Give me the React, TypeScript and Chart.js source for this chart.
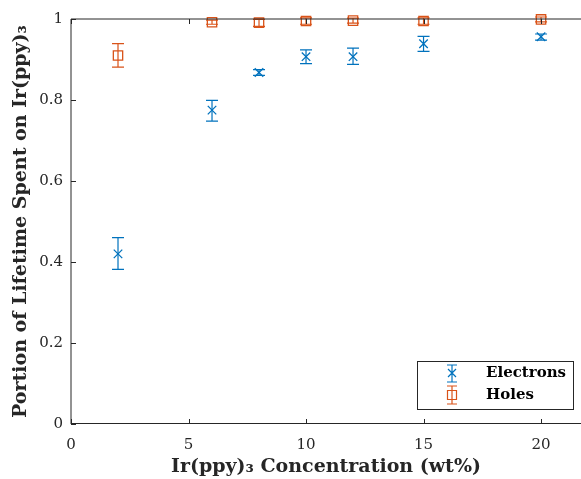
import React, { useEffect, useRef } from "react";
import { Chart, registerables } from "chart.js";

Chart.register(...registerables);

// ---- data ----
const concentrations = [2, 6, 8, 10, 12, 15, 20];
const electronMean = [0.42, 0.775, 0.868, 0.907, 0.907, 0.939, 0.956];
const electronLow = [0.382, 0.748, 0.861, 0.89, 0.888, 0.92, 0.948];
const electronHigh = [0.46, 0.799, 0.875, 0.924, 0.928, 0.957, 0.963];
const holeMean = [0.91, 0.992, 0.991, 0.995, 0.996, 0.995, 0.999];
const holeLow = [0.881, 0.987, 0.982, 0.987, 0.99, 0.987, 0.993];
const holeHigh = [0.939, 0.997, 0.999, 1.003, 1.002, 1.003, 1.005];
const xTicks = [0, 5, 10, 15, 20];
const yTicks = [0, 0.2, 0.4, 0.6, 0.8, 1];
const seriesNames = ["Electrons", "Holes"];

const BLUE = "#0072BD";
const ORANGE = "#D95319";
const AXIS = "#262626";
const FONT = "'DejaVu Serif', serif";

const errorBarPlugin = {
  id: "errorBars",
  afterDatasetsDraw(chart: any) {
    const { ctx, scales } = chart;
    const x = scales.x;
    const y = scales.y;
    const series = [
      { low: electronLow, high: electronHigh, color: BLUE },
      { low: holeLow, high: holeHigh, color: ORANGE },
    ];
    ctx.save();
    ctx.lineWidth = 1.2;
    series.forEach((s) => {
      ctx.strokeStyle = s.color;
      concentrations.forEach((c, i) => {
        const px = x.getPixelForValue(c);
        const yl = y.getPixelForValue(s.low[i]);
        const yh = y.getPixelForValue(s.high[i]);
        ctx.beginPath();
        ctx.moveTo(px, yl);
        ctx.lineTo(px, yh);
        ctx.moveTo(px - 6, yl);
        ctx.lineTo(px + 6, yl);
        ctx.moveTo(px - 6, yh);
        ctx.lineTo(px + 6, yh);
        ctx.stroke();
      });
    });
    ctx.restore();
  },
};

const axesPlugin = {
  id: "matlabAxes",
  afterDraw(chart: any) {
    const { ctx, chartArea, scales } = chart;
    const { left, top, bottom, right } = chartArea;
    ctx.save();
    ctx.strokeStyle = AXIS;
    ctx.lineWidth = 1;
    ctx.beginPath();
    ctx.moveTo(left, bottom - 0.5);
    ctx.lineTo(right, bottom - 0.5);
    ctx.moveTo(left, bottom);
    ctx.lineTo(left, top);
    ctx.moveTo(left, top);
    ctx.lineTo(right, top);
    xTicks.forEach((v) => {
      const px = Math.round(scales.x.getPixelForValue(v)) + 0.5;
      ctx.moveTo(px, bottom);
      ctx.lineTo(px, bottom - 5);
      ctx.moveTo(px, top);
      ctx.lineTo(px, top + 5);
    });
    yTicks.forEach((v) => {
      const py = Math.round(scales.y.getPixelForValue(v)) + 0.5;
      ctx.moveTo(left, py);
      ctx.lineTo(left + 5, py);
    });
    ctx.stroke();

    // legend
    const lx = right - 164;
    const ly = bottom - 63;
    const lw = 156;
    const lh = 48;
    ctx.fillStyle = "#ffffff";
    ctx.fillRect(lx + 0.5, ly + 0.5, lw, lh);
    ctx.strokeStyle = AXIS;
    ctx.strokeRect(lx + 0.5, ly + 0.5, lw, lh);
    const mx = lx + 35;
    const rows = [ly + 11, ly + 33];
    ctx.lineWidth = 1.2;
    ctx.strokeStyle = BLUE;
    ctx.beginPath();
    ctx.moveTo(mx, rows[0] - 7);
    ctx.lineTo(mx, rows[0] + 10);
    ctx.moveTo(mx - 5, rows[0] - 7);
    ctx.lineTo(mx + 5, rows[0] - 7);
    ctx.moveTo(mx - 5, rows[0] + 10);
    ctx.lineTo(mx + 5, rows[0] + 10);
    ctx.moveTo(mx - 4, rows[0] - 3);
    ctx.lineTo(mx + 4, rows[0] + 5);
    ctx.moveTo(mx + 4, rows[0] - 3);
    ctx.lineTo(mx - 4, rows[0] + 5);
    ctx.stroke();
    ctx.strokeStyle = ORANGE;
    const hc = rows[1];
    ctx.beginPath();
    ctx.moveTo(mx, hc - 8);
    ctx.lineTo(mx, hc + 10);
    ctx.moveTo(mx - 5, hc - 8);
    ctx.lineTo(mx + 5, hc - 8);
    ctx.moveTo(mx - 5, hc + 10);
    ctx.lineTo(mx + 5, hc + 10);
    ctx.rect(mx - 4.5, hc - 3.5, 9, 9);
    ctx.stroke();
    ctx.fillStyle = "#000000";
    ctx.font = "bold 15px " + FONT;
    ctx.textAlign = "left";
    ctx.textBaseline = "middle";
    ctx.fillText(seriesNames[0], lx + 69, rows[0] + 1);
    ctx.fillText(seriesNames[1], lx + 69, rows[1] + 1);
    ctx.restore();
  },
};

export default function App() {
  const canvasRef = useRef<HTMLCanvasElement | null>(null);

  useEffect(() => {
    document.body.style.margin = "0";
    document.body.style.overflow = "hidden";
    const canvas = canvasRef.current;
    if (!canvas) return;
    const chart = new Chart(canvas, {
      type: "scatter",
      data: {
        datasets: [
          {
            label: seriesNames[0],
            data: concentrations.map((c, i) => ({ x: c, y: electronMean[i] })),
            pointStyle: "crossRot",
            pointRadius: 6,
            borderColor: BLUE,
            backgroundColor: "transparent",
            borderWidth: 1.3,
            showLine: false,
            clip: false,
          } as any,
          {
            label: seriesNames[1],
            data: concentrations.map((c, i) => ({ x: c, y: holeMean[i] })),
            pointStyle: "rect",
            pointRadius: 6.6,
            borderColor: ORANGE,
            backgroundColor: "transparent",
            borderWidth: 1.3,
            showLine: false,
            clip: false,
          } as any,
        ],
      },
      options: {
        responsive: false,
        animation: false,
        devicePixelRatio: 1,
        layout: { autoPadding: false, padding: { top: 19, right: 0, left: 0, bottom: 0 } },
        plugins: {
          legend: { display: false },
          tooltip: { enabled: false },
        },
        scales: {
          x: {
            type: "linear",
            min: 0,
            max: 21.7,
            grid: { display: false, drawTicks: false },
            border: { display: false },
            afterBuildTicks: (scale: any) => {
              scale.ticks = xTicks.map((v) => ({ value: v }));
            },
            afterFit: (scale: any) => {
              scale.height = 55;
              scale.paddingRight = 0;
              scale.paddingLeft = 0;
            },
            ticks: {
              color: AXIS,
              padding: 12,
              font: { family: FONT, size: 15 },
            },
            title: {
              display: true,
              text: "Ir(ppy)₃ Concentration (wt%)",
              color: AXIS,
              font: { family: FONT, size: 19, weight: "bold" },
              padding: { top: 0, bottom: 1 },
            },
          },
          y: {
            type: "linear",
            min: 0,
            max: 1,
            grid: { display: false, drawTicks: false },
            border: { display: false },
            afterBuildTicks: (scale: any) => {
              scale.ticks = yTicks.map((v) => ({ value: v }));
            },
            afterFit: (scale: any) => {
              scale.width = 71;
            },
            ticks: {
              color: AXIS,
              padding: 8,
              font: { family: FONT, size: 15 },
              callback: (v: any) => String(v),
            },
            title: {
              display: true,
              text: "Portion of Lifetime Spent on Ir(ppy)₃",
              color: AXIS,
              font: { family: FONT, size: 19, weight: "bold" },
              padding: { top: 10, bottom: 0 },
            },
          },
        },
      },
      plugins: [errorBarPlugin, axesPlugin],
    });
    return () => chart.destroy();
  }, []);

  return (
    <div style={{ position: "absolute", left: 0, top: 0, width: 581, height: 479 }}>
      <canvas ref={canvasRef} width={581} height={479} />
    </div>
  );
}
